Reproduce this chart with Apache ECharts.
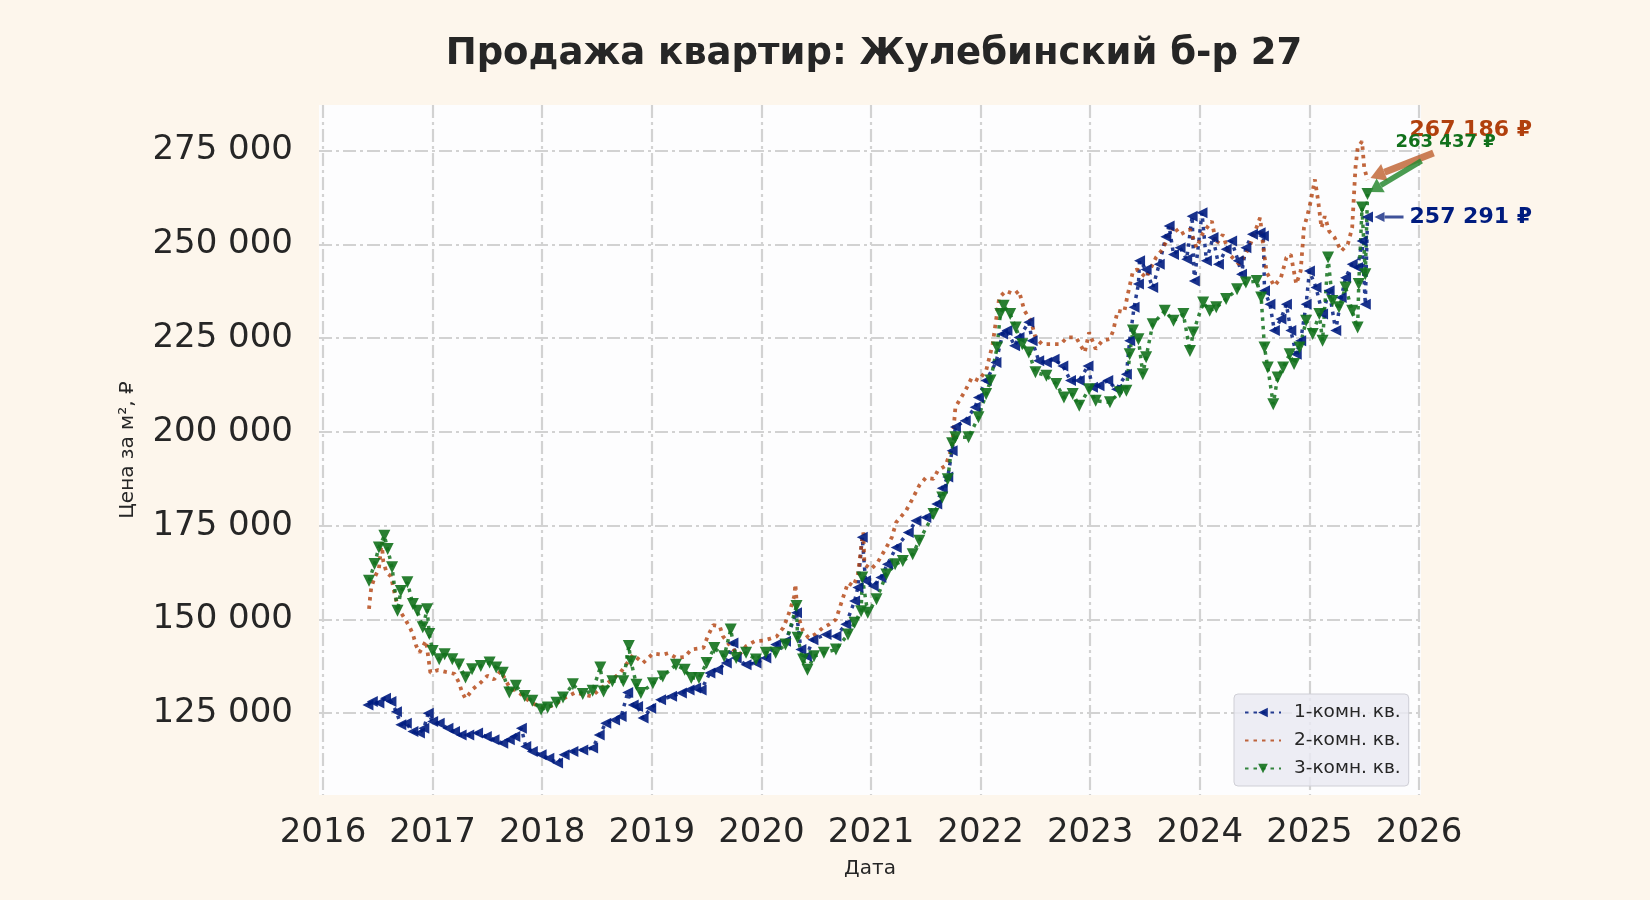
<!DOCTYPE html>
<html>
    <head>
        <meta charset="UTF-8" />
        <script src="https://cdn.jsdelivr.net/npm/echarts@6/dist/echarts.min.js"></script>
        <style>
            html, body { margin: 0; padding: 0; background: #fdf6ec; }
        </style>
    </head>

    <body>
        <div id="main" style="width: 1650px; height: 900px"></div>
        <script type="text/javascript">

            // даты в долях года
            var room1X = [2016.41,2016.45,2016.51,2016.57,2016.62,2016.67,2016.71,2016.76,2016.82,2016.88,2016.92,2016.96,
                2017.00,2017.06,2017.14,2017.20,2017.26,2017.33,2017.41,2017.49,2017.56,2017.64,2017.70,2017.75,2017.81,2017.85,2017.91,2017.99,
                2018.06,2018.14,2018.20,2018.28,2018.37,2018.46,2018.52,2018.58,2018.66,2018.72,2018.78,2018.83,2018.87,2018.92,2018.99,
                2019.08,2019.18,2019.27,2019.34,2019.40,2019.45,2019.53,2019.60,2019.68,2019.74,2019.77,2019.86,2019.95,
                2020.04,2020.13,2020.22,2020.32,2020.36,2020.41,2020.47,2020.59,2020.68,2020.77,2020.85,2020.88,2020.92,2020.95,
                2021.02,2021.09,2021.15,2021.23,2021.34,2021.41,2021.50,2021.60,2021.65,2021.70,2021.74,2021.77,2021.86,2021.95,2021.98,
                2022.05,2022.14,2022.20,2022.24,2022.31,2022.35,2022.44,2022.47,2022.53,2022.60,2022.67,2022.75,2022.82,2022.90,2022.98,
                2023.02,2023.08,2023.16,2023.24,2023.33,2023.36,2023.40,2023.44,2023.45,2023.51,2023.57,2023.63,2023.69,2023.72,2023.76,2023.82,2023.88,2023.93,2023.95,
                2024.02,2024.06,2024.12,2024.17,2024.24,2024.29,2024.35,2024.38,2024.42,2024.48,2024.55,2024.58,2024.59,2024.64,2024.68,2024.74,2024.79,2024.83,2024.88,2024.92,2024.97,
                2025.00,2025.06,2025.12,2025.18,2025.24,2025.29,2025.33,2025.39,2025.44,2025.48,2025.51,2025.53];
            var room1Y = [127200,128100,127700,129000,128100,125400,121900,122300,120100,119700,121000,125000,
                122800,122300,121000,120100,119200,119200,119700,118800,117900,117000,117900,118800,121000,116100,114800,113900,
                113000,111700,113900,114800,115200,115700,119200,122300,123200,124100,130500,127200,126800,123700,126300,
                128600,129500,130400,131200,131700,131200,135700,136600,138400,143700,139700,137900,138400,
                139700,143300,144200,151800,142000,140200,144600,146000,145500,148700,154900,158500,171900,160300,
                158900,161200,164700,169200,173200,176300,177200,180800,185000,188000,195000,201300,203000,206600,209200,
                213700,218500,226100,227000,223000,225200,229200,224300,219000,218500,219400,217600,213700,213700,217600,
                211900,212300,213700,211400,215400,224300,233200,239400,245600,243300,238500,244700,252000,254900,247300,249100,246000,257500,240200,
                258400,245600,251800,244700,248700,250900,245600,242000,249100,252700,253100,252200,237600,234000,227000,230100,234000,227000,220700,224300,234000,
                242900,238500,231400,237600,227000,235800,241100,244700,243800,250900,234000,257291];

            var room2X = [2016.42,2016.43,2016.44,2016.47,2016.51,2016.535,2016.55,2016.58,2016.62,2016.66,2016.69,2016.74,2016.79,2016.82,2016.85,2016.88,2016.94,2016.98,
                2017.05,2017.12,2017.20,2017.24,2017.27,2017.30,2017.37,2017.44,2017.50,2017.56,2017.62,2017.70,2017.80,2017.90,
                2018.00,2018.10,2018.20,2018.30,2018.45,2018.54,2018.71,2018.83,2018.92,
                2019.01,2019.10,2019.15,2019.22,2019.30,2019.36,2019.47,2019.51,2019.56,2019.62,2019.65,2019.74,2019.80,2019.86,2019.94,
                2020.02,2020.08,2020.14,2020.20,2020.23,2020.26,2020.30,2020.31,2020.33,2020.38,2020.43,2020.49,2020.56,2020.62,2020.68,2020.71,2020.74,2020.79,2020.84,2020.88,2020.91,2020.93,2020.94,
                2021.00,2021.06,2021.14,2021.19,2021.23,2021.32,2021.37,2021.44,2021.50,2021.57,2021.61,2021.68,2021.74,2021.77,2021.86,2021.92,2021.98,
                2022.05,2022.11,2022.17,2022.23,2022.31,2022.35,2022.40,2022.46,2022.50,2022.56,2022.66,2022.73,2022.79,2022.87,2022.95,2022.99,
                2023.05,2023.11,2023.18,2023.21,2023.25,2023.31,2023.34,2023.39,2023.43,2023.51,2023.60,2023.66,2023.76,2023.82,2023.91,2023.97,
                2024.03,2024.11,2024.15,2024.21,2024.27,2024.36,2024.45,2024.55,2024.58,2024.61,2024.68,2024.74,2024.79,2024.83,2024.88,2024.92,2024.95,
                2025.00,2025.05,2025.08,2025.11,2025.14,2025.18,2025.23,2025.29,2025.35,2025.39,2025.42,2025.44,2025.48,2025.50,2025.53];
            var room2Y = [152800,156000,158400,161200,163500,170600,165500,162500,161500,156000,152800,150500,148000,146100,143000,141200,144300,135800,
                136500,136000,135500,133200,130500,128900,131500,133200,135000,134000,136300,132000,130200,127800,
                126500,127000,129000,130500,129500,131700,135700,140600,138400,
                140900,140600,141000,139800,140000,142000,142400,145500,148500,148200,145500,142000,140600,142900,144200,
                144400,144900,145500,147800,150000,152400,156200,159400,151300,146900,145100,146000,147800,148700,150000,152700,155400,159800,158900,162000,169200,173200,164700,
                163400,165200,169200,171900,175900,179000,181700,185700,187800,187500,189700,191000,196000,206600,211000,214500,213700,
                216300,223400,235800,237600,236700,237600,232300,229600,225200,223400,223400,223400,225200,225200,221200,226500,
                222100,224300,224800,227000,232300,231900,236300,242900,243300,241100,246500,248700,254900,252600,254000,249100,
                253100,256200,250000,252600,247300,244700,249100,257100,249100,242500,238900,241100,246500,247300,239400,242900,254400,
                259800,267300,261500,254400,257500,253500,251800,248200,250000,254400,270400,275700,277500,270400,267186];

            var room3X = [2016.42,2016.47,2016.51,2016.56,2016.59,2016.63,2016.68,2016.71,2016.77,2016.82,2016.86,2016.91,2016.95,2016.97,
                2017.00,2017.06,2017.11,2017.18,2017.24,2017.30,2017.36,2017.44,2017.52,2017.58,2017.64,2017.70,2017.76,2017.84,2017.91,2017.99,
                2018.05,2018.13,2018.19,2018.28,2018.37,2018.46,2018.53,2018.56,2018.64,2018.74,2018.79,2018.81,2018.86,2018.90,
                2019.01,2019.10,2019.22,2019.30,2019.36,2019.43,2019.50,2019.57,2019.66,2019.72,2019.77,2019.86,2019.95,
                2020.04,2020.13,2020.22,2020.32,2020.33,2020.38,2020.42,2020.48,2020.57,2020.68,2020.79,2020.85,2020.91,2020.92,2020.97,
                2021.05,2021.14,2021.22,2021.29,2021.38,2021.44,2021.57,2021.65,2021.70,2021.74,2021.77,2021.89,2021.98,
                2022.05,2022.09,2022.15,2022.18,2022.21,2022.27,2022.32,2022.38,2022.44,2022.50,2022.60,2022.69,2022.76,2022.84,2022.90,2022.99,
                2023.05,2023.18,2023.27,2023.33,2023.36,2023.39,2023.44,2023.48,2023.51,2023.57,2023.68,2023.76,2023.85,2023.91,2023.94,
                2024.03,2024.09,2024.15,2024.24,2024.34,2024.42,2024.52,2024.56,2024.59,2024.62,2024.67,2024.71,2024.76,2024.82,2024.86,2024.91,2024.97,
                2025.03,2025.09,2025.12,2025.17,2025.21,2025.27,2025.33,2025.39,2025.44,2025.45,2025.48,2025.51,2025.53];
            var room3Y = [160300,164800,169200,172300,168800,163900,152300,157600,159900,154100,152300,147900,152700,146100,
                141600,139400,140700,139400,138000,134500,136700,137600,138500,137200,135800,130500,132300,129600,128300,126000,
                126500,127800,129200,132700,130100,131000,137200,130800,133500,133500,142900,138800,132600,130400,
                133000,134800,137900,136600,134400,134400,138400,142400,140200,147300,139700,141100,139300,
                141100,141100,143300,153600,145100,139300,136600,140200,141100,142000,146000,149100,152200,161200,151800,
                155400,162000,164700,165600,167400,171000,178100,182500,187400,197000,198600,198600,203900,
                210100,213700,222500,231400,233600,231400,227800,223400,221200,215900,215000,212800,209200,210100,207000,211400,
                208300,207900,210600,211000,220700,227000,224700,215400,219900,228700,232300,229600,231400,221600,226500,
                234500,232300,233200,235400,238000,239800,240200,235800,222500,217200,207400,214500,217200,220700,218100,222500,229600,
                226100,231400,224300,246500,234900,233200,238500,232300,227800,239400,259800,242000,263437];

            var seriesNames = ['1-комн. кв.', '2-комн. кв.', '3-комн. кв.'];
            var seriesColors = ['#001c7f', '#b1400d', '#12711c'];
            var yTicks = [125000, 150000, 175000, 200000, 225000, 250000, 275000];
            var xTicks = [2016, 2017, 2018, 2019, 2020, 2021, 2022, 2023, 2024, 2025, 2026];

            function pairs(xs, ys) {
                var out = [];
                for (var i = 0; i < xs.length; i++) {
                    out.push([xs[i], ys[i]]);
                }
                return out;
            }

            function fmtThousands(v) {
                return String(Math.round(v)).replace(/\B(?=(\d{3})+(?!\d))/g, ' ');
            }

            var chartDom = document.getElementById('main');
            var myChart = echarts.init(chartDom);
            var font = 'DejaVu Sans';
            var dots = [3.5, 5];

            var option = {
                backgroundColor: '#fdf6ec',
                animation: false,
                textStyle: { fontFamily: font },
                title: {
                    text: 'Продажа квартир: Жулебинский б-р 27',
                    left: 869,
                    textAlign: 'center',
                    top: 31,
                    textStyle: { fontFamily: font, fontSize: 37, fontWeight: 'bold', color: '#262626' }
                },
                grid: {
                    left: 319, top: 105, width: 1102, height: 690,
                    show: true, backgroundColor: '#fdfdfe', borderWidth: 0
                },
                legend: {
                    data: [
                        { name: seriesNames[0] },
                        { name: seriesNames[1], itemStyle: { opacity: 0 } },
                        { name: seriesNames[2] }
                    ],
                    orient: 'vertical',
                    left: 1234, top: 694,
                    backgroundColor: 'rgba(234,234,242,0.85)',
                    borderColor: '#cfcfd6', borderWidth: 1, borderRadius: 4,
                    padding: [9, 8, 8, 10],
                    itemWidth: 36, itemHeight: 12, itemGap: 9,
                    textStyle: { fontFamily: font, fontSize: 18.5, color: '#262626', padding: [0, 0, 0, 8] }
                },
                xAxis: {
                    type: 'value',
                    min: 2015.9635, max: 2026.018,
                    minInterval: 1, maxInterval: 1,
                    name: 'Дата', nameLocation: 'middle', nameGap: 64,
                    nameTextStyle: { fontFamily: font, fontSize: 20, color: '#262626' },
                    axisLine: { show: false }, axisTick: { show: false },
                    axisLabel: {
                        showMinLabel: false, showMaxLabel: false,
                        margin: 21, fontSize: 34, color: '#262626', fontFamily: font,
                        formatter: function (v) { return xTicks.indexOf(Math.round(v)) >= 0 ? String(Math.round(v)) : ''; }
                    },
                    splitLine: {
                        show: true, showMinLine: false, showMaxLine: false,
                        lineStyle: { color: '#d2d2d2', width: 2.2, type: [13, 4, 3, 4] }
                    }
                },
                yAxis: {
                    type: 'value',
                    min: 103200, max: 287150,
                    minInterval: 25000, maxInterval: 25000,
                    name: 'Цена за м², ₽', nameLocation: 'middle', nameGap: 181, nameRotate: 90,
                    nameTextStyle: { fontFamily: font, fontSize: 20, color: '#262626' },
                    axisLine: { show: false }, axisTick: { show: false },
                    axisLabel: {
                        showMinLabel: false, showMaxLabel: false,
                        margin: 26, fontSize: 34, color: '#262626', fontFamily: font,
                        formatter: function (v) { return yTicks.indexOf(Math.round(v)) >= 0 ? fmtThousands(v) : ''; }
                    },
                    splitLine: {
                        show: true, showMinLine: false, showMaxLine: false,
                        lineStyle: { color: '#d2d2d2', width: 2.2, type: [13, 4, 3, 4] }
                    }
                },
                series: [
                    {
                        name: seriesNames[0], type: 'line',
                        data: pairs(room1X, room1Y),
                        symbol: 'triangle', symbolRotate: 90, symbolSize: 11,
                        itemStyle: { color: seriesColors[0], opacity: 0.9 },
                        lineStyle: { color: seriesColors[0], width: 3.5, type: dots, opacity: 0.85 }
                    },
                    {
                        name: seriesNames[1], type: 'line',
                        data: pairs(room2X, room2Y),
                        showSymbol: false, symbol: 'none',
                        itemStyle: { color: seriesColors[1] },
                        lineStyle: { color: seriesColors[1], width: 3.8, type: dots, opacity: 0.8 }
                    },
                    {
                        name: seriesNames[2], type: 'line',
                        data: pairs(room3X, room3Y),
                        symbol: 'triangle', symbolRotate: 180, symbolSize: 12,
                        itemStyle: { color: seriesColors[2], opacity: 0.9 },
                        lineStyle: { color: seriesColors[2], width: 3.5, type: dots, opacity: 0.85 }
                    }
                ]
            };

            option && myChart.setOption(option);

            // подписи последних значений со стрелками
            function arrowEls(p0, p1, color, width, headLen, headW, opacity) {
                var dx = p1[0] - p0[0], dy = p1[1] - p0[1];
                var len = Math.sqrt(dx * dx + dy * dy);
                var ux = dx / len, uy = dy / len;
                var bx = p1[0] - ux * headLen, by = p1[1] - uy * headLen;
                return [
                    { type: 'line', z: 100, shape: { x1: p0[0], y1: p0[1], x2: bx, y2: by },
                      style: { stroke: color, lineWidth: width, opacity: opacity } },
                    { type: 'polygon', z: 100, shape: { points: [
                        [p1[0], p1[1]],
                        [bx - uy * headW, by + ux * headW],
                        [bx + uy * headW, by - ux * headW]
                      ] }, style: { fill: color, opacity: opacity } }
                ];
            }

            var lastIdx = [room1X.length - 1, room2X.length - 1, room3X.length - 1];
            var p1 = myChart.convertToPixel({ gridIndex: 0 }, [room1X[lastIdx[0]], room1Y[lastIdx[0]]]);
            var p2 = myChart.convertToPixel({ gridIndex: 0 }, [room2X[lastIdx[1]], room2Y[lastIdx[1]]]);
            var p3 = myChart.convertToPixel({ gridIndex: 0 }, [room3X[lastIdx[2]], room3Y[lastIdx[2]]]);

            var graphics = [];
            graphics = graphics.concat(arrowEls([p2[0] + 66, p2[1] - 27], [p2[0] + 3, p2[1] - 2], '#c2683a', 7, 15, 9, 0.85));
            graphics = graphics.concat(arrowEls([p3[0] + 54, p3[1] - 33], [p3[0] + 2, p3[1] - 2], '#2a8a33', 5.5, 13, 8, 0.85));
            graphics = graphics.concat(arrowEls([p1[0] + 36, p1[1]], [p1[0] + 7, p1[1]], '#2a3f8f', 3, 10, 5, 0.9));
            graphics.push({ type: 'text', z: 101, x: p2[0] + 42, y: p2[1] - 50,
                style: { text: fmtThousands(room2Y[lastIdx[1]]) + ' ₽', fill: seriesColors[1], font: 'bold 22px "DejaVu Sans"', verticalAlign: 'middle' } });
            graphics.push({ type: 'text', z: 102, x: p3[0] + 28, y: p3[1] - 52,
                style: { text: fmtThousands(room3Y[lastIdx[2]]) + ' ₽', fill: seriesColors[2], font: 'bold 18px "DejaVu Sans"', verticalAlign: 'middle' } });
            graphics.push({ type: 'text', z: 101, x: p1[0] + 42, y: p1[1],
                style: { text: fmtThousands(room1Y[lastIdx[0]]) + ' ₽', fill: seriesColors[0], font: 'bold 22px "DejaVu Sans"', verticalAlign: 'middle' } });

            myChart.setOption({ graphic: graphics });
        </script>
    </body>
</html>
